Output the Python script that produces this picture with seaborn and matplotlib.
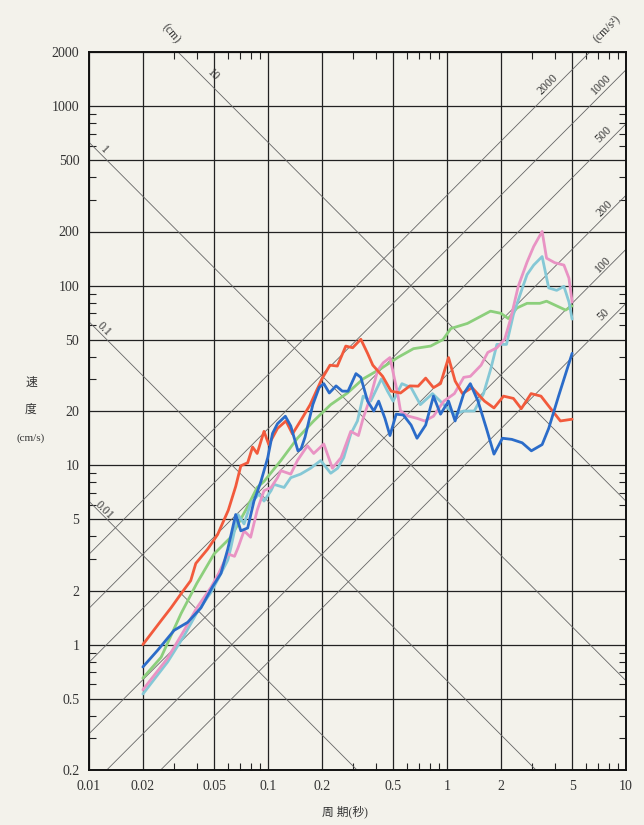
import numpy as np
import pandas as pd
import matplotlib
matplotlib.use("Agg")
import matplotlib.pyplot as plt
import seaborn as sns
from matplotlib.ticker import FixedLocator, FixedFormatter, NullFormatter

# ---------------- data (period [s], velocity [cm/s]) ----------------
red_T = [0.02, 0.0253, 0.0287, 0.0327, 0.037, 0.0395, 0.046, 0.0523, 0.060, 0.066, 0.0705,
         0.077, 0.082, 0.087, 0.095, 0.101, 0.113, 0.126, 0.137, 0.155, 0.172, 0.200, 0.222,
         0.244, 0.272, 0.297, 0.330, 0.360, 0.385, 0.437, 0.487, 0.55, 0.62, 0.69, 0.76,
         0.84, 0.92, 1.02, 1.11, 1.22, 1.38, 1.62, 1.83, 2.07, 2.35, 2.6, 2.95, 3.35, 3.7,
         4.3, 5.0]
red_v = [1.0, 1.36, 1.6, 1.92, 2.27, 2.83, 3.4, 4.1, 5.6, 7.6, 9.9,
         10.3, 12.6, 11.6, 15.4, 13.0, 16.0, 17.6, 14.9, 18.2, 21.7, 30.2, 36.0,
         35.6, 46.0, 45.0, 50.2, 41.9, 36.0, 31.2, 25.8, 25.2, 27.6, 27.5, 30.5,
         27.0, 28.4, 39.7, 29.4, 25.0, 27.0, 22.7, 20.8, 24.2, 23.5, 20.6, 25.0, 24.2, 21.3,
         17.6, 18.0]

blue_T = [0.02, 0.0242, 0.0299, 0.0356, 0.0422, 0.049, 0.0546, 0.0596, 0.066, 0.0705, 0.077,
          0.0835, 0.0913, 0.0997, 0.106, 0.113, 0.125, 0.134, 0.147, 0.153, 0.161, 0.178,
          0.193, 0.205, 0.22, 0.24, 0.26, 0.28, 0.31, 0.33, 0.36, 0.39, 0.415, 0.45, 0.48,
          0.52, 0.57, 0.63, 0.68, 0.76, 0.84, 0.92, 1.02, 1.11, 1.24, 1.35, 1.49, 1.66, 1.83,
          2.04, 2.3, 2.63, 2.96, 3.4, 3.7, 4.2, 5.0]
blue_v = [0.75, 0.93, 1.2, 1.33, 1.6, 2.1, 2.49, 3.4, 5.3, 4.3, 4.46,
          6.3, 8.1, 11.0, 15.0, 17.0, 18.7, 16.5, 12.0, 12.3, 14.3, 21.7,
          27.0, 28.4, 25.2, 27.6, 25.8, 25.8, 32.3, 30.8, 22.7, 20.0, 22.7, 18.2, 14.6,
          19.2, 19.0, 16.7, 14.1, 16.7, 24.2, 19.2, 22.7, 17.6, 25.0, 28.4, 22.7, 16.0, 11.5,
          14.1, 13.9, 13.3, 12.0, 13.0, 16.0, 24.2, 41.9]

green_T = [0.02, 0.0253, 0.0327, 0.04, 0.05, 0.062, 0.075, 0.087, 0.095, 0.118, 0.146, 0.18,
           0.224, 0.278, 0.34, 0.43, 0.53, 0.65, 0.81, 0.95, 1.05, 1.3, 1.55, 1.75, 2.0, 2.2,
           2.46, 2.8, 3.3, 3.6, 4.1, 4.6, 5.0]
green_v = [0.65, 0.85, 1.49, 2.19, 3.2, 3.96, 5.6, 7.5, 8.1, 10.6, 14.1, 17.6,
           21.7, 25.2, 30.2, 34.6, 39.7, 44.5, 46.0, 50.0, 57.6, 61.5, 67.5, 72.0, 70.0, 65.5,
           75.0, 79.6, 79.6, 81.8, 77.0, 73.0, 77.0]

cyan_T = [0.02, 0.0275, 0.034, 0.04, 0.048, 0.053, 0.0596, 0.062, 0.068, 0.0735, 0.080, 0.089,
          0.095, 0.104, 0.108, 0.123, 0.134, 0.152, 0.173, 0.197, 0.224, 0.245, 0.265, 0.29,
          0.316, 0.34, 0.375, 0.43, 0.465, 0.5, 0.56, 0.63, 0.71, 0.83, 0.96, 1.1, 1.24, 1.42,
          1.6, 1.76, 1.9, 2.15, 2.35, 2.6, 2.8, 3.05, 3.4, 3.7, 4.1, 4.5, 4.8, 5.0]
cyan_v = [0.53, 0.8, 1.12, 1.5, 1.95, 2.35, 2.95, 3.46, 5.3, 4.7, 6.1, 6.9,
          6.3, 7.2, 7.8, 7.5, 8.5, 8.9, 9.6, 10.6, 9.0, 9.6, 11.0, 14.9,
          17.6, 24.2, 22.7, 30.2, 25.8, 22.7, 28.4, 27.0, 21.7, 25.0, 21.7, 19.2, 20.0, 20.0,
          25.0, 34.6, 47.0, 47.0, 69.0, 93.0, 115.0, 130.0, 145.0, 97.0, 94.0, 99.0, 81.0, 65.0]

pink_T = [0.02, 0.0275, 0.034, 0.04, 0.048, 0.053, 0.0596, 0.065, 0.068, 0.0735, 0.080, 0.087,
          0.095, 0.104, 0.113, 0.118, 0.134, 0.146, 0.166, 0.18, 0.205, 0.229, 0.256, 0.29,
          0.32, 0.34, 0.375, 0.41, 0.44, 0.48, 0.53, 0.55, 0.6, 0.68, 0.75, 0.84, 0.96, 1.1,
          1.24, 1.35, 1.55, 1.69, 1.9, 2.1, 2.27, 2.5, 2.8, 3.05, 3.4, 3.6, 4.0, 4.5, 4.8, 5.0]
pink_v = [0.56, 0.84, 1.2, 1.6, 2.08, 2.49, 3.2, 3.1, 3.46, 4.3, 3.96, 5.6,
          7.2, 7.5, 8.5, 9.3, 8.9, 10.6, 12.8, 11.6, 13.1, 9.6, 11.0, 15.4,
          14.6, 18.2, 24.2, 33.7, 37.1, 39.7, 25.0, 20.0, 18.8, 18.2, 17.6, 18.7, 22.7, 25.0,
          30.8, 31.2, 36.0, 42.4, 45.0, 50.2, 65.5, 99.0, 135.0, 165.0, 200.0, 142.0, 134.0,
          130.0, 110.0, 81.0]

series_names = ["green", "cyan", "pink", "red", "blue"]
series_colors = {"red": "#f25a3c", "blue": "#2b6cc9", "green": "#8ccf7c",
                 "cyan": "#85c8d6", "pink": "#e993c4"}

x_ticks = [0.01, 0.02, 0.05, 0.1, 0.2, 0.5, 1, 2, 5, 10]
x_labels = ["0.01", "0.02", "0.05", "0.1", "0.2", "0.5", "1", "2", "5", "10"]
y_ticks = [0.2, 0.5, 1, 2, 5, 10, 20, 50, 100, 200, 500, 1000, 2000]
y_labels = ["0.2", "0.5", "1", "2", "5", "10", "20", "50", "100", "200", "500", "1000", "2000"]

disp_lines = [0.01, 0.1, 1, 10]                 # cm
acc_lines = [50, 100, 200, 500, 1000, 2000]      # cm/s^2
disp_labels = ["0.01", "0.1", "1", "10"]
acc_labels = ["50", "100", "200", "500", "1000", "2000"]

# ---------------- build table ----------------
data = {"red": (red_T, red_v), "blue": (blue_T, blue_v), "green": (green_T, green_v),
        "cyan": (cyan_T, cyan_v), "pink": (pink_T, pink_v)}
frames = []
for name in series_names:
    T, v = data[name]
    frames.append(pd.DataFrame({"period": T, "velocity": v, "series": name,
                                "order": np.arange(len(T))}))
df = pd.concat(frames, ignore_index=True)

# ---------------- figure ----------------
sns.set_theme(style="white")
plt.rcParams["font.family"] = ["Liberation Serif", "Noto Sans CJK JP", "DejaVu Sans"]

paper = "#f3f2eb"
fig = plt.figure(figsize=(6.44, 8.25), dpi=100, facecolor=paper)
ax = fig.add_axes([89 / 644, 55 / 825, 537 / 644, 718 / 825])
ax.set_facecolor(paper)
ax.set_xscale("log")
ax.set_yscale("log")
ax.set_xlim(0.01, 10)
ax.set_ylim(0.2, 2000)

# tripartite reference lines
Tg = np.logspace(-2.5, 1.5, 60)
for D in disp_lines:
    ax.plot(Tg, 2 * np.pi * D / Tg, color="#666666", lw=0.6, zorder=1)
for A in acc_lines:
    ax.plot(Tg, A * Tg / (2 * np.pi), color="#666666", lw=0.6, zorder=1)

sns.lineplot(data=df, x="period", y="velocity", hue="series", hue_order=series_names,
             palette=series_colors, units="series", estimator=None, sort=False,
             linewidth=2.0, legend=False, ax=ax, zorder=3)

ax.set_xlim(0.01, 10)
ax.set_ylim(0.2, 2000)

# grid and ticks
ax.xaxis.set_major_locator(FixedLocator(x_ticks))
ax.xaxis.set_major_formatter(FixedFormatter(x_labels))
ax.yaxis.set_major_locator(FixedLocator(y_ticks))
ax.yaxis.set_major_formatter(FixedFormatter(y_labels))
x_minor = [m * 10.0 ** e for e in (-2, -1, 0) for m in (3, 4, 6, 7, 8, 9)]
y_minor = [m * 10.0 ** e for e in (-1, 0, 1, 2, 3) for m in (3, 4, 6, 7, 8, 9)]
y_minor = [y for y in y_minor if 0.2 < y < 2000]
ax.xaxis.set_minor_locator(FixedLocator(x_minor))
ax.yaxis.set_minor_locator(FixedLocator(y_minor))
ax.xaxis.set_minor_formatter(NullFormatter())
ax.yaxis.set_minor_formatter(NullFormatter())
ax.tick_params(which="major", length=0, pad=7, labelsize=10, labelcolor="#333333")
ax.tick_params(which="minor", direction="in", length=5, width=0.8, color="#222222",
               top=True, right=True, bottom=True, left=True)
ax.grid(True, which="major", color="#222222", lw=0.9, zorder=2)
ax.grid(False, which="minor")
for s in ax.spines.values():
    s.set_color("#111111")
    s.set_linewidth(1.4)
ax.set_xlabel("")
ax.set_ylabel("")

# diagonal labels
lab_kw = dict(fontsize=8.5, color="#333333", ha="center", va="center", clip_on=False)
disp_pos = [(0.0121, 5.6), (0.0121, 57), (0.0121, 571), (0.0493, 1490)]
for (t, v), txt in zip(disp_pos, disp_labels):
    ax.text(t, v, txt, rotation=-45, **lab_kw)
ax.text(0.0287, 2520, "(cm)", rotation=-50, **lab_kw)
acc_pos = [(7.5, 69), (7.5, 131), (7.6, 268), (7.5, 692), (7.24, 1312), (3.66, 1312)]
for (t, v), txt in zip(acc_pos, acc_labels):
    ax.text(t, v, txt, rotation=45, **lab_kw)
ax.text(7.9, 2690, "(cm/s²)", rotation=45, **lab_kw)

# axis titles
fig.text(31 / 644, 1 - 383 / 825, "速", fontsize=8.5, ha="center", va="center", color="#333333")
fig.text(31 / 644, 1 - 410 / 825, "度", fontsize=8.5, ha="center", va="center", color="#333333")
fig.text(31 / 644, 1 - 438 / 825, "(cm/s)", fontsize=8, ha="center", va="center", color="#333333")
fig.text(345 / 644, 1 - 812 / 825, "周 期(秒)", fontsize=8.5, ha="center", va="center",
         color="#333333")

fig.savefig("out.png", dpi=100, facecolor=paper)
